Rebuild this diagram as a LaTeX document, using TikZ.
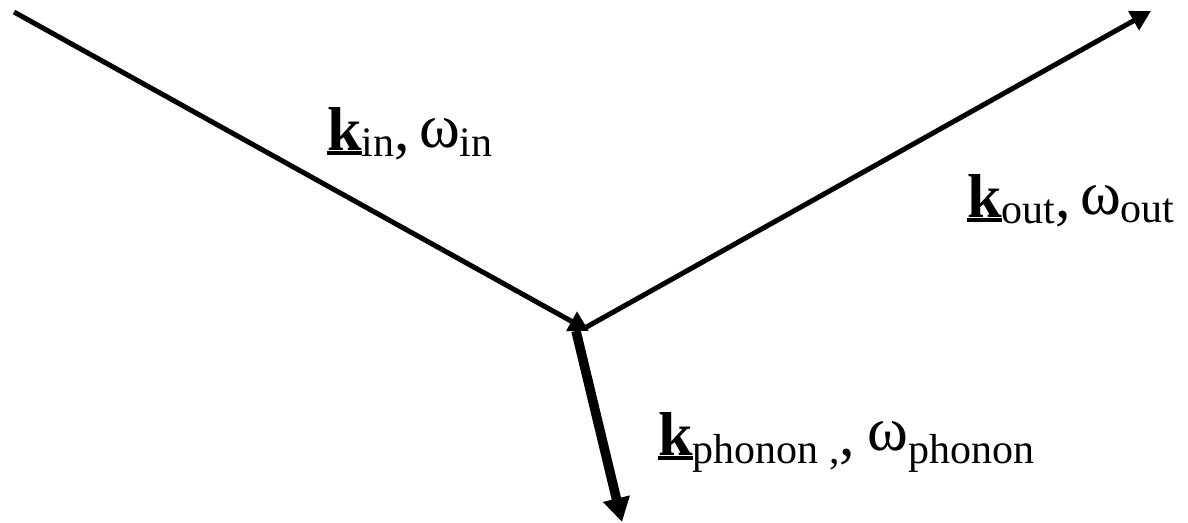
\documentclass[tikz,border=0pt]{standalone}
\usepackage{fontspec}
\setmainfont{Liberation Serif}
\usetikzlibrary{arrows.meta}
\newcommand\ulk{\setbox0\hbox{\bfseries k}\rlap{\rule[-5pt]{\wd0}{4.5pt}}\box0}
\newcommand\subsz[2][-6pt]{\raisebox{#1}{\fontsize{42}{46}\selectfont #2}}
\newcommand\omg[1][3pt]{\raisebox{#1}{\fontsize{62}{64}\selectfont ω}}
\tikzset{
  wave/.style={line width=5pt, -{Triangle[length=20pt,width=21pt]}},
  phon/.style={line width=9.5pt, -{Triangle[length=24pt,width=26pt]}},
  lbl/.style={anchor=base west, inner sep=0pt, font=\fontsize{62}{64}\selectfont}
}
\begin{document}
\begin{tikzpicture}[x=1pt,y=-1pt]
\useasboundingbox (0,0) rectangle (1188,522);
\coordinate (a) at (14,12);
\coordinate (v) at (589,331);
\coordinate (vo) at (583,329);
\coordinate (b) at (1151,11);
\coordinate (p0) at (576,331);
\coordinate (p1) at (622,522);
\draw[wave] (a) -- (v);
\draw[wave] (vo) -- (b);
\draw[phon] (p0) -- (p1);
\node[lbl] (kin) at (327,150) {\ulk\subsz{in},\hspace{0.15em}\omg\subsz[-6pt]{in}};
\node[lbl] (kout) at (967,217) {\ulk\subsz{out},\hspace{0.15em}\omg\subsz[-5pt]{out}};
\node[lbl] (kph) at (658,455) {\ulk\subsz[-8pt]{phonon ,},\hspace{0.2em}\omg[5pt]\subsz[-8pt]{phonon}};
\end{tikzpicture}
\end{document}
